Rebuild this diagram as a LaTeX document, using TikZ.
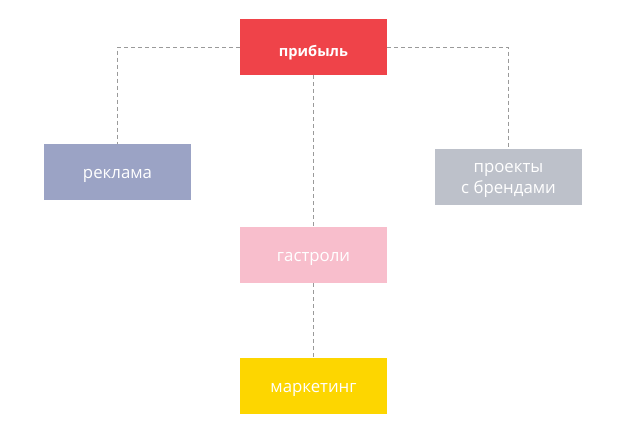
\documentclass[tikz,border=0pt]{standalone}
\usepackage{fontspec}
\setmainfont{Open Sans}
\definecolor{cred}{HTML}{EF4349}
\definecolor{cblue}{HTML}{9BA3C5}
\definecolor{cgrey}{HTML}{BDC1CA}
\definecolor{cpink}{HTML}{F8BECC}
\definecolor{cyellow}{HTML}{FDD600}
\definecolor{cline}{HTML}{9A9A9A}
\begin{document}
\begin{tikzpicture}[x=1pt,y=-1pt,
  box/.style={minimum width=147pt,minimum height=56pt,inner sep=0pt},
  txt/.style={text=white,font=\fontsize{16.8}{20.7}\selectfont,align=center,yshift=-3.5pt,inner sep=0pt},
  boldtxt/.style={txt,font=\fontsize{14.6}{18}\selectfont\bfseries,yshift=-2pt},
  link/.style={draw=cline,dashed,dash pattern=on 4pt off 3pt,line width=0.9pt}]
\useasboundingbox (0,0) rectangle (640,432);
\node[box,fill=cred,label={[boldtxt]center:прибыль}] (p) at (313.5,47) {};
\node[box,fill=cblue,label={[txt]center:реклама}] (r) at (117.5,172) {};
\node[box,fill=cgrey,label={[txt]center:проекты\\с брендами}] (b) at (508.5,177) {};
\node[box,fill=cpink,label={[txt]center:гастроли}] (g) at (313.5,255) {};
\node[box,fill=cyellow,label={[txt]center:маркетинг}] (m) at (313.5,386) {};
\draw[link] (p.west) -| (r.north);
\draw[link] (p.east) -| (b.north);
\draw[link] (p.south) -- (g.north);
\draw[link] (g.south) -- (m.north);
\end{tikzpicture}
\end{document}
